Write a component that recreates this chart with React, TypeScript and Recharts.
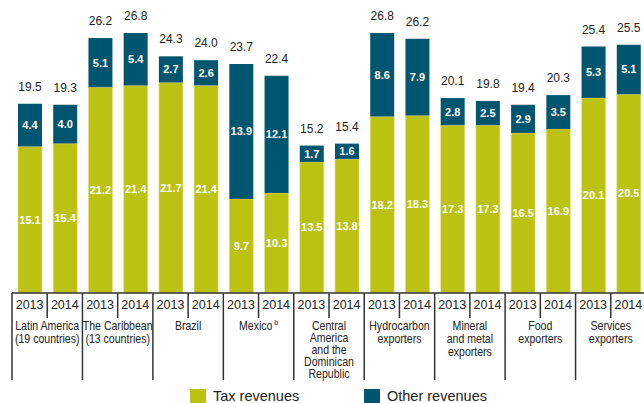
import { BarChart, Bar, XAxis, YAxis, LabelList, Legend } from 'recharts'

const years = ['2013', '2014', '2013', '2014', '2013', '2014', '2013', '2014', '2013', '2014', '2013', '2014', '2013', '2014', '2013', '2014', '2013', '2014']
const groupLabels: string[][] = [
  ['Latin America', '(19 countries)'],
  ['The Caribbean', '(13 countries)'],
  ['Brazil'],
  ['Mexico'],
  ['Central', 'America', 'and the', 'Dominican', 'Republic'],
  ['Hydrocarbon', 'exporters'],
  ['Mineral', 'and metal', 'exporters'],
  ['Food', 'exporters'],
  ['Services', 'exporters'],
]
const taxValues = [15.1, 15.4, 21.2, 21.4, 21.7, 21.4, 9.7, 10.3, 13.5, 13.8, 18.2, 18.3, 17.3, 17.3, 16.5, 16.9, 20.1, 20.5]
const otherValues = [4.4, 4.0, 5.1, 5.4, 2.7, 2.6, 13.9, 12.1, 1.7, 1.6, 8.6, 7.9, 2.8, 2.5, 2.9, 3.5, 5.3, 5.1]
const totals = [19.5, 19.3, 26.2, 26.8, 24.3, 24.0, 23.7, 22.4, 15.2, 15.4, 26.8, 26.2, 20.1, 19.8, 19.4, 20.3, 25.4, 25.5]

const TAX = '#bcc212'
const OTHER = '#00566f'
const LINE = '#333'
const FONT = "'Liberation Sans', Arial, sans-serif"

const W = 644
const H = 403
const M = { top: 2, right: -2, bottom: 0, left: 12 }
const SLOT = (W - M.left - M.right) / years.length

const data = years.map((y, i) => ({
  key: String(i),
  year: y,
  tax: taxValues[i],
  other: otherValues[i],
  total: totals[i],
}))

function YearTick(props: any) {
  const { x, y, index } = props
  const left = x - SLOT / 2
  const isFirst = index % 2 === 0
  const g = Math.floor(index / 2)
  const lines = groupLabels[g]
  const lh = lines.length > 4 ? 12 : 13
  return (
    <g>
      <line x1={left} x2={left} y1={y} y2={isFirst ? y + 87 : y + 25} stroke={LINE} strokeWidth={1.5} />
      {index === years.length - 1 && (
        <line x1={x + SLOT / 2} x2={x + SLOT / 2} y1={y} y2={y + 87} stroke={LINE} strokeWidth={1.5} />
      )}
      <text x={x} y={y + 13} textAnchor="middle" dominantBaseline="middle" fontSize={12.5} fill="#222" fontFamily={FONT}>
        {years[index]}
      </text>
      {isFirst && (
        // condensed look of the original labels
        <g transform={`translate(${x + SLOT / 2},0) scale(0.88,1)`}>
          <text x={0} textAnchor="middle" fontSize={12} fill="#222" fontFamily={FONT}>
            {lines.map((l, k) => (
              <tspan key={k} x={0} y={y + 37 + k * lh}>
                {l}
                {g === 3 && <tspan fontSize={8} dy={-5} dx={2}>b</tspan>}
              </tspan>
            ))}
          </text>
        </g>
      )}
    </g>
  )
}

function TotalLabel(props: any) {
  const { x, y, width, index } = props
  return (
    <text x={x + width / 2} y={y - 16} textAnchor="middle" dominantBaseline="middle" fontSize={12} fill="#222" fontFamily={FONT}>
      {totals[index].toFixed(1)}
    </text>
  )
}

function LegendContent() {
  const item = (left: number, color: string, label: string) => (
    <div style={{ position: 'absolute', left, top: 7, display: 'flex', alignItems: 'center' }}>
      <div style={{ width: 16, height: 14, background: color, marginRight: 7 }} />
      <span style={{ fontSize: 14.5, color: '#222', fontFamily: FONT, lineHeight: '14px' }}>{label}</span>
    </div>
  )
  return (
    <div style={{ position: 'relative', width: W, height: 21 }}>
      {item(190, TAX, 'Tax revenues')}
      {item(364, OTHER, 'Other revenues')}
    </div>
  )
}

export default function App() {
  return (
    <div style={{ position: 'absolute', left: 0, top: 0, width: W, height: H, overflow: 'hidden', background: '#fff' }}>
      <BarChart width={W} height={H} data={data} margin={M} barSize={24}>
        <XAxis dataKey="key" interval={0} height={89} tickLine={false} tickSize={0} tickMargin={0}
          axisLine={{ stroke: LINE, strokeWidth: 1.5 }} tick={<YearTick />} />
        <YAxis hide domain={[0, 30]} />
        <Legend verticalAlign="bottom" height={21} content={<LegendContent />}
          wrapperStyle={{ left: 0, width: W, bottom: 0, height: 21 }} />
        <Bar dataKey="tax" stackId="a" fill={TAX} stroke="#dfe38a" strokeWidth={0.6} isAnimationActive={false}>
          <LabelList dataKey="tax" position="center" fill="#fff" fontSize={11} fontWeight="bold"
            fontFamily={FONT} formatter={(v: any) => Number(v).toFixed(1)} />
        </Bar>
        <Bar dataKey="other" stackId="a" fill={OTHER} isAnimationActive={false}>
          <LabelList dataKey="other" position="center" fill="#fff" fontSize={11} fontWeight="bold"
            fontFamily={FONT} formatter={(v: any) => Number(v).toFixed(1)} />
          <LabelList dataKey="total" content={<TotalLabel />} />
        </Bar>
      </BarChart>
    </div>
  )
}
